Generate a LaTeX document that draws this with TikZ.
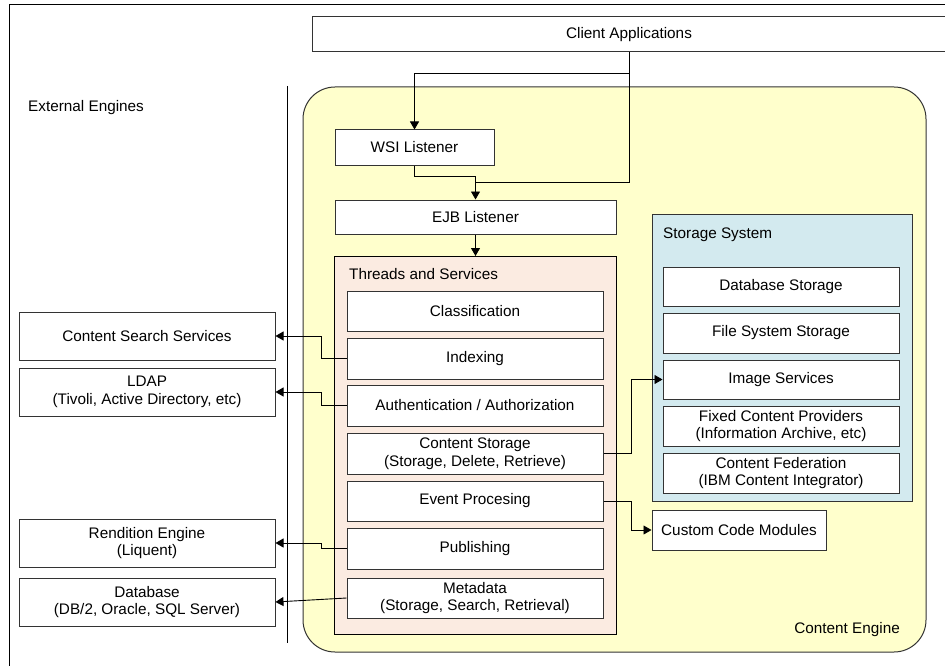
\documentclass[tikz,border=0pt]{standalone}
\usepackage{fontspec}
\setmainfont{Liberation Sans}
\usetikzlibrary{arrows.meta}
\definecolor{ceyellow}{HTML}{FFFFCC}
\definecolor{thpink}{HTML}{FBEBE1}
\definecolor{stblue}{HTML}{D3EAEF}
\definecolor{bordergray}{HTML}{333333}
\begin{document}
\begin{tikzpicture}[x=1pt,y=-1pt,
  every node/.style={font=\fontsize{15.3}{17.5}\selectfont, inner sep=0pt},
  box/.style={draw=bordergray, line width=1pt, fill=white, align=center},
  group/.style={draw=bordergray, line width=1pt},
  lbl/.style={anchor=west},
  conn/.style={draw=black, line width=0.9pt},
  arr/.style={conn, -{Triangle[length=8pt,width=9pt]}}
]
\useasboundingbox (0,0) rectangle (945,666);
% outer frame
\coordinate (fa) at (9,670);
\coordinate (fb) at (9,5);
\coordinate (fc) at (950,5);
\draw[line width=1pt] (fa) -- (fb) -- (fc);
% separator
\coordinate (sa) at (287,86);
\coordinate (sb) at (287,643);
\draw[line width=1pt] (sa) -- (sb);

% Content Engine
\draw[group, fill=ceyellow, rounded corners=32pt] (303,87) rectangle (926,652);
\node[anchor=east] (celbl) at (900,630) {Content Engine};

% Client applications
\node[box, minimum width=634pt, minimum height=35pt] (client) at (629,34.5) {Client Applications};

\node[lbl] (extlbl) at (28,108) {External Engines};

% listeners
\node[box, minimum width=159pt, minimum height=35pt] (wsi) at (414.5,147.5) {WSI Listener};
\node[box, minimum width=281pt, minimum height=34pt] (ejb) at (475.5,217) {EJB Listener};

% Threads and Services
\draw[group, draw=black, fill=thpink] (334,256) rectangle (616,634);
\coordinate (thtop) at (475.5,256);
\node[lbl] (thlbl) at (349,274) {Threads and Services};
\tikzset{inner/.style={box, minimum width=256pt, minimum height=41pt}}
\node[inner, minimum height=40pt] (cls) at (475,311) {Classification};
\node[inner] (idx) at (475,358.5) {Indexing};
\node[inner] (auth) at (475,405.5) {Authentication / Authorization};
\node[inner] (cstor) at (475,453.5) {Content Storage\\(Storage, Delete, Retrieve)};
\node[inner, minimum height=40pt] (evt) at (475,501) {Event Procesing};
\node[inner] (pub) at (475,548.5) {Publishing};
\node[inner, minimum height=40pt] (meta) at (475,598) {Metadata\\(Storage, Search, Retrieval)};

% Storage System
\draw[group, fill=stblue] (652,214) rectangle (912,501);
\node[lbl] (stlbl) at (663,235) {Storage System};
\tikzset{sbox/.style={box, minimum width=236pt, minimum height=40pt}}
\node[sbox, minimum height=39pt] (dbs) at (781,286.5) {Database Storage};
\node[sbox] (fss) at (781,333) {File System Storage};
\node[sbox, minimum height=39pt] (img) at (781,379.5) {Image Services};
\node[sbox] (fixed) at (781,426) {Fixed Content Providers\\(Information Archive, etc)};
\node[sbox] (fed) at (781,473) {Content Federation\\(IBM Content Integrator)};

\node[box, minimum width=174pt, minimum height=40pt] (custom) at (739,530) {Custom Code Modules};

% External engines
\tikzset{ext/.style={box, minimum width=256pt, minimum height=48pt}}
\node[ext] (css) at (147,336) {Content Search Services};
\node[ext] (ldap) at (147,392) {LDAP\\(Tivoli, Active Directory, etc)};
\node[ext] (rend) at (147,543) {Rendition Engine\\(Liquent)};
\node[ext] (db) at (147,602) {Database\\(DB/2, Oracle, SQL Server)};

% connectors
\draw[arr] (client.south) -- ++(0,21) -| (wsi.north);
\draw[conn] (wsi.south) |- ([yshift=23pt]ejb.north) -- ([yshift=17pt]ejb.north);
\draw[arr] (client.south) |- ([yshift=17pt]ejb.north) -- (ejb.north);
\draw[arr] (ejb.south) -- (thtop);

\draw[arr] (idx.west) -- ++(-25,0) |- (css.east);
\draw[arr] (auth.west) -- ++(-25,0) |- (ldap.east);
\draw[arr] (pub.west) -- ++(-25,0) |- (rend.east);
\draw[arr] (meta.west) -- (db.east);

\draw[arr] (cstor.east) -- ++(28,0) |- (img.west);
\draw[arr] (evt.east) -- ++(28,0) |- (custom.west);
\end{tikzpicture}
\end{document}
